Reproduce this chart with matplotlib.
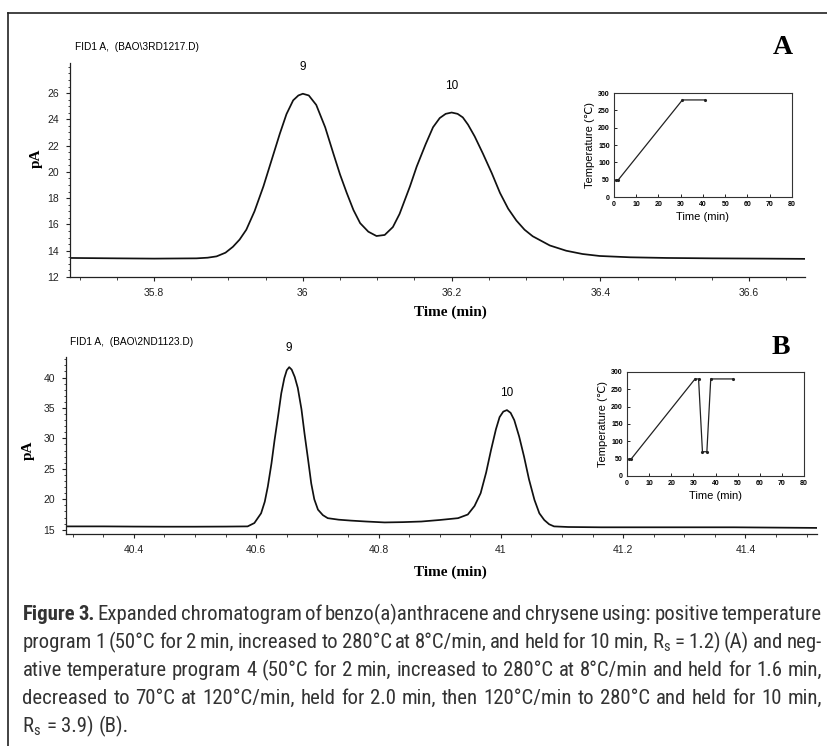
import math
import matplotlib
matplotlib.use('Agg')
import matplotlib.pyplot as plt
from matplotlib.lines import Line2D
from matplotlib.ticker import MultipleLocator
from matplotlib import font_manager
from matplotlib.backends.backend_agg import get_hinting_flag

# Chromatogram A, positive temperature program 1
a_time = [35.687, 35.75, 35.80, 35.857, 35.872, 35.884, 35.896, 35.906, 35.915, 35.924,
          35.935, 35.947, 35.958, 35.969, 35.978, 35.987, 35.994, 36.000, 36.008, 36.018,
          36.030, 36.041, 36.050, 36.059, 36.068, 36.077, 36.088, 36.099, 36.110, 36.121,
          36.130, 36.144, 36.153, 36.165, 36.175, 36.184, 36.192, 36.200, 36.208, 36.215,
          36.222, 36.231, 36.242, 36.254, 36.265, 36.276, 36.287, 36.298, 36.309, 36.332,
          36.354, 36.376, 36.399, 36.44, 36.489, 36.55, 36.62, 36.675]
a_signal = [13.45, 13.42, 13.40, 13.42, 13.47, 13.57, 13.85, 14.3, 14.85, 15.6,
            17.0, 18.9, 20.9, 22.9, 24.4, 25.45, 25.82, 25.95, 25.82, 25.1,
            23.4, 21.4, 19.8, 18.4, 17.1, 16.1, 15.45, 15.12, 15.2, 15.8,
            16.8, 18.9, 20.4, 22.1, 23.4, 24.1, 24.42, 24.52, 24.42, 24.15,
            23.6, 22.7, 21.4, 19.9, 18.4, 17.2, 16.3, 15.6, 15.1, 14.4,
            14.0, 13.75, 13.6, 13.5, 13.45, 13.42, 13.4, 13.38]

# Chromatogram B, negative temperature program 4
b_time = [40.289, 40.35, 40.40, 40.45, 40.50, 40.55, 40.586, 40.597, 40.608, 40.614,
          40.619, 40.625, 40.630, 40.636, 40.641, 40.646, 40.650, 40.654, 40.658, 40.663,
          40.668, 40.674, 40.679, 40.685, 40.690, 40.695, 40.701, 40.709, 40.717, 40.735,
          40.755, 40.78, 40.810, 40.84, 40.870, 40.900, 40.930, 40.946, 40.957, 40.967,
          40.976, 40.984, 40.992, 40.998, 41.004, 41.010, 41.016, 41.022, 41.030, 41.038,
          41.046, 41.055, 41.063, 41.071, 41.079, 41.087, 41.11, 41.164, 41.25, 41.381,
          41.45, 41.517]
b_signal = [15.55, 15.55, 15.52, 15.5, 15.5, 15.52, 15.55, 16.1, 17.7, 19.6,
            22.1, 25.9, 29.7, 33.8, 37.4, 39.9, 41.2, 41.7, 41.3, 40.1,
            38.3, 34.8, 30.8, 26.4, 22.6, 20.0, 18.3, 17.4, 16.9, 16.65,
            16.5, 16.35, 16.2, 16.25, 16.35, 16.6, 16.9, 17.5, 18.9, 21.0,
            24.4, 28.1, 31.5, 33.5, 34.4, 34.65, 34.2, 33.0, 30.3, 27.0,
            23.3, 19.9, 17.7, 16.6, 15.9, 15.55, 15.45, 15.4, 15.4, 15.4,
            15.35, 15.3]

# oven programs shown in the insets
ins_a_time = [1, 2, 30.75, 40.75]
ins_a_temp = [50, 50, 280, 280]
ins_b_time = [1, 2, 30.75, 32.35, 34.1, 36.1, 37.85, 47.85]
ins_b_temp = [50, 50, 280, 280, 70, 70, 280, 280]

a_xticks = [35.8, 36.0, 36.2, 36.4, 36.6]
a_xlabels = ['35.8', '36', '36.2', '36.4', '36.6']
a_yticks = [12, 14, 16, 18, 20, 22, 24, 26]
b_xticks = [40.4, 40.6, 40.8, 41.0, 41.2, 41.4]
b_xlabels = ['40.4', '40.6', '40.8', '41', '41.2', '41.4']
b_yticks = [15, 20, 25, 30, 35, 40]

caption_lines = [
    "Figure 3. Expanded chromatogram of benzo(a)anthracene and chrysene using: positive temperature",
    "program 1 (50°C for 2 min, increased to 280°C at 8°C/min, and held for 10 min, "
    "R$_\\mathregular{s}$ = 1.2) (A) and neg-",
    "ative temperature program 4 (50°C for 2 min, increased to 280°C at 8°C/min and held for 1.6 min,",
    "decreased to 70°C at 120°C/min, held for 2.0 min, then 120°C/min to 280°C and held for 10 min,",
    "R$_\\mathregular{s}$ = 3.9) (B).",
]

W, H = 828, 746
plt.rcParams['font.family'] = ['Liberation Sans', 'DejaVu Sans']
fig = plt.figure(figsize=(W / 100, H / 100), dpi=100)

SERIF = ['Liberation Serif', 'DejaVu Serif']
names = {f.name for f in font_manager.fontManager.ttflist}
cap_font = next((n for n in ['Liberation Sans Narrow', 'Roboto Condensed', 'Open Sans Condensed',
                             'Liberation Sans'] if n in names), 'DejaVu Sans')


def box(x0, y0, x1, y1):
    # pixel box (top-left origin) -> figure fraction rect
    return [x0 / W, 1 - y1 / H, (x1 - x0) / W, (y1 - y0) / H]


def ftext(x, y, s, **kw):
    return fig.text(x / W, 1 - y / H, s, **kw)


def chrom(rect, t, v, xlim, ylim, xt, xl, yt, yminor):
    ax = fig.add_axes(rect)
    ax.plot(t, v, color='#111111', lw=1.25)
    ax.set_xlim(*xlim)
    ax.set_ylim(*ylim)
    ax.spines['top'].set_visible(False)
    ax.spines['right'].set_visible(False)
    for s in ['left', 'bottom']:
        ax.spines[s].set_linewidth(0.9)
        ax.spines[s].set_color('#222222')
    ax.set_xticks(xt)
    ax.set_xticklabels(xl)
    ax.set_yticks(yt)
    ax.xaxis.set_minor_locator(MultipleLocator(0.05))
    ax.yaxis.set_minor_locator(MultipleLocator(yminor))
    ax.tick_params(which='major', length=3.2, width=0.8, labelsize=7.5, pad=4.5, colors='#222222')
    ax.tick_params(which='minor', length=1.8, width=0.6, colors='#222222')
    ax.patch.set_alpha(0)
    return ax


def inset(rect, t, temp):
    ax = fig.add_axes(rect)
    ax.plot(t, temp, color='#222222', lw=0.9, marker='.', markersize=2.5)
    ax.set_xlim(0, 80)
    ax.set_ylim(0, 300)
    ax.set_xticks(range(0, 81, 10))
    ax.set_yticks(range(0, 301, 50))
    ax.tick_params(direction='in', length=2, width=0.6, labelsize=5, pad=3)
    for lab in ax.get_xticklabels() + ax.get_yticklabels():
        lab.set_fontweight('bold')
    for s in ax.spines.values():
        s.set_linewidth(0.8)
        s.set_color('#333333')
    ax.set_xlabel('Time (min)', fontsize=8, labelpad=3)
    ax.set_ylabel('Temperature (℃)', fontsize=8, labelpad=2)
    return ax


# panel A
axA = chrom(box(70, 63, 805, 277), a_time, a_signal, (35.687, 36.675), (12, 28.29),
            a_xticks, a_xlabels, a_yticks, 0.5)
axA.text(36.0, 28.0, '9', ha='center', va='center', fontsize=8.5, clip_on=False)
axA.text(36.2, 26.55, '10', ha='center', va='center', fontsize=8.5, clip_on=False)
ftext(75, 47, 'FID1 A,  (BAO\\3RD1217.D)', fontsize=7.3, va='center', ha='left')
ftext(36, 158, 'pA', rotation=90, fontsize=11, fontweight='bold', family=SERIF, ha='center', va='center')
ftext(450, 312, 'Time (min)', fontsize=11, fontweight='bold', family=SERIF, ha='center', va='center')
ftext(783, 48, 'A', fontsize=20, fontweight='bold', family=SERIF, ha='center', va='center')
inset(box(614, 93, 792, 197), ins_a_time, ins_a_temp)

# panel B
axB = chrom(box(66, 357, 817, 534), b_time, b_signal, (40.289, 41.517), (14.3, 43.37),
            b_xticks, b_xlabels, b_yticks, 1)
axB.text(40.654, 44.8, '9', ha='center', va='center', fontsize=8.5, clip_on=False)
axB.text(41.01, 37.4, '10', ha='center', va='center', fontsize=8.5, clip_on=False)
ftext(70, 342, 'FID1 A,  (BAO\\2ND1123.D)', fontsize=7.3, va='center', ha='left')
ftext(28, 450, 'pA', rotation=90, fontsize=11, fontweight='bold', family=SERIF, ha='center', va='center')
ftext(450, 572, 'Time (min)', fontsize=11, fontweight='bold', family=SERIF, ha='center', va='center')
ftext(781, 348, 'B', fontsize=20, fontweight='bold', family=SERIF, ha='center', va='center')
inset(box(627, 372, 804, 476), ins_b_time, ins_b_temp)

# frame lines (top and left)
fig.add_artist(Line2D([8 / W, 1], [1 - 12.5 / H] * 2, color='#222222', lw=1.2))
fig.add_artist(Line2D([8.3 / W] * 2, [1 - 12.5 / H, 0], color='#222222', lw=1.2))

# caption, justified line by line
r = fig.canvas.get_renderer()
x_left, x_right = 22.5, 822
cap_base = [620, 648, 676, 704, 732]


def agg_shift(t):
    # Agg blits each word's bitmap at whole pixels; work out how far (px, downward)
    # the drawn baseline lands from an integer target so it can be undone
    if '$' in t.get_text():
        return 0
    try:
        font = r._prepare_font(t.get_fontproperties())
        font.set_text(t.get_text(), 0, flags=get_hinting_flag())
        w, h = font.get_width_height()
        d = font.get_descent() / 64
        ymax = h / 64 - d
        return round(d) - math.floor(h / 64) + math.floor(ymax)
    except Exception:
        return 0


def width_of(s, size, weight='normal'):
    t = fig.text(0, 0, s, fontsize=size, family=cap_font, fontweight=weight)
    w = t.get_window_extent(r).width
    t.remove()
    return w


def line_width(i, size):
    total = 0
    for j, w in enumerate(caption_lines[i].split(' ')):
        total += width_of(w, size, 'bold' if (i == 0 and j < 2) else 'normal')
    return total


cap_size = 15
space = width_of('a a', cap_size) - 2 * width_of('a', cap_size)
need = max(line_width(i, cap_size) + 0.6 * space * (len(caption_lines[i].split(' ')) - 1)
           for i in range(len(caption_lines) - 1))
if need > x_right - x_left:
    cap_size *= (x_right - x_left) / need
    space *= (x_right - x_left) / need

for i, line in enumerate(caption_lines):
    words = line.split(' ')
    arts = []
    for j, w in enumerate(words):
        bold = (i == 0 and j < 2)
        arts.append(fig.text(0, 1 - cap_base[i] / H, w, fontsize=cap_size, family=cap_font,
                             fontweight='bold' if bold else 'normal', color='#333333',
                             va='baseline', ha='left'))
    widths = [a.get_window_extent(r).width for a in arts]
    if i < len(caption_lines) - 1:
        gap = (x_right - x_left - sum(widths)) / (len(arts) - 1)
    else:
        gap = space
    x = x_left
    for a, w in zip(arts, widths):
        a.set_position((x / W, 1 - (cap_base[i] - agg_shift(a)) / H))
        x += w + gap

fig.savefig('out.png', dpi=100)
